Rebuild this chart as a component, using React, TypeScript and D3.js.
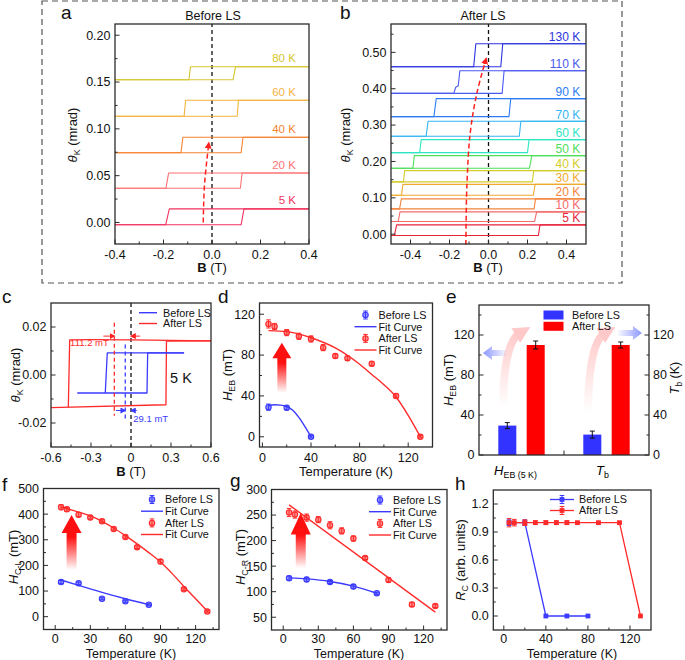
import { useEffect, useRef } from 'react';
import * as d3 from 'd3';

const FONT = '"Liberation Sans", Arial, Helvetica, sans-serif';
const AX = '#2b2b2b';
const BLUE = '#3b3bff';
const RED = '#ff2b2b';
const TICK = 12.5;
const TITLE = 13;

// ── a: Kerr loops before LS ─────────────────────────────
const aTemps = ['5 K', '20 K', '40 K', '60 K', '80 K'];
const aColors = ['#f2325f', '#ff7373', '#f5832f', '#f4b33f', '#d7c62e'];
const aLow = [-0.0025, 0.0365, 0.0745, 0.1135, 0.1525];
const aHigh = [0.0145, 0.0528, 0.091, 0.1305, 0.1663];
const aDown = [[-0.176, -0.191], [-0.179, -0.19], [-0.12, -0.128], [-0.109, -0.115], [-0.089, -0.095]];
const aUp = [[0.12, 0.132], [0.117, 0.124], [0.12, 0.128], [0.104, 0.109], [0.087, 0.097]];
const aArrow = [[-0.036, 0.0], [-0.031, 0.04], [-0.013, 0.085]];

// ── b: Kerr loops after LS ──────────────────────────────
const bTemps = ['5 K', '10 K', '20 K', '30 K', '40 K', '50 K', '60 K', '70 K', '90 K', '110 K', '130 K'];
const bColors = ['#e8243c', '#f46a6a', '#f4843c', '#f0aa2c', '#d4cc2a', '#4ede5a', '#2ee6c4', '#34b4f4', '#2e7cf4', '#4a5af0', '#2c34e0'];
const bLow = [-0.0037, 0.0348, 0.0696, 0.107, 0.1438, 0.1813, 0.2244, 0.2692, 0.3232, 0.3873, 0.4606];
const bHigh = [0.0256, 0.0614, 0.097, 0.137, 0.1749, 0.216, 0.2601, 0.3104, 0.3727, 0.4496, 0.5238];
const bDown = [[-0.471, -0.483], [-0.454, -0.463], [-0.447, -0.456], [-0.439, -0.446], [-0.43, -0.436], [-0.38, -0.388], [-0.345, -0.353], [-0.31, -0.32], [-0.268, -0.28], [-0.147, -0.178], [-0.065, -0.076]];
const bUp = [[0.256, 0.264], [0.236, 0.247], [0.234, 0.241], [0.23, 0.239], [0.225, 0.232], [0.21, 0.222], [0.2, 0.208], [0.158, 0.166], [0.105, 0.114], [0.07, 0.08], [0.063, 0.073]];
const bKink110 = [[-0.155, 0.408], [-0.168, 0.404]];
const bArrow = [[-0.116, -0.029], [-0.111, 0.131], [-0.094, 0.277], [-0.06, 0.387], [-0.012, 0.483]];

// ── c: 5 K loops ────────────────────────────────────────
const cBlueLower = [[-0.403, -0.0075], [0.12, -0.0075], [0.125, 0.0092], [0.398, 0.0092]];
const cBlueUpper = [[0.398, 0.0092], [-0.178, 0.0092], [-0.193, -0.0075]];
const cRedLower = [[-0.6, -0.0136], [0.262, -0.0124], [0.266, 0.0141], [0.6, 0.0142]];
const cRedUpper = [[0.6, 0.0142], [0.3, 0.0144], [0.0, 0.0146], [-0.3, 0.0147], [-0.46, 0.0146], [-0.47, -0.0133]];
const cCentre = [-0.125, -0.043]; // after, before

// ── d: H_EB vs T ────────────────────────────────────────
const dTBefore = [5, 20, 40];
const dHBefore = [29, 28.4, 0];
const dEBefore = [3, 2, 1];
const dTAfter = [5, 10, 20, 30, 40, 50, 60, 70, 90, 110, 130];
const dHAfter = [110.5, 108, 102, 98.4, 95.8, 87.3, 79, 77, 71.6, 40, 0];
const dEAfter = [4, 3, 3, 3, 3, 3, 2, 2, 2, 2, 1];
const dFitTBefore = [5, 10, 15, 20, 25, 30, 35, 40];
const dFitHBefore = [30.4, 31.3, 31, 29.5, 26, 19, 10, 0];
const dFitTAfter = [5, 20, 40, 60, 80, 90, 100, 110, 120, 130];
const dFitHAfter = [104, 103, 97, 87, 71, 61, 51, 39, 21, 0];

// ── e: bars ─────────────────────────────────────────────
const eCats = ['HEB', 'Tb'];
const eSeries = ['Before LS', 'After LS'];
const eBefore = [29.4, 20.4];
const eAfter = [110, 110];
const eErrBefore = [3, 3.5];
const eErrAfter = [4, 3];

// ── f: H_C-L vs T ───────────────────────────────────────
const fTBefore = [5, 20, 40, 60, 80];
const fHBefore = [135, 130, 70, 60, 47];
const fEBefore = [6, 5, 4, 4, 3];
const fTAfter = [5, 10, 20, 30, 40, 50, 60, 70, 90, 110, 130];
const fHAfter = [427, 419, 398, 387, 372, 342, 311, 271, 215, 107, 20];
const fEAfter = [10, 8, 8, 6, 6, 5, 5, 5, 8, 5, 3];
const fFitTBefore = [5, 20, 40, 60, 80];
const fFitHBefore = [143, 122, 95, 70, 47];
const fFitTAfter = [5, 20, 30, 40, 50, 60, 70, 80, 90, 100, 110, 120, 130];
const fFitHAfter = [428, 408, 393, 372, 346, 316, 284, 250, 213, 168, 118, 70, 22];

// ── g: H_C-R vs T ───────────────────────────────────────
const gTBefore = [5, 20, 40, 60, 80];
const gHBefore = [126.5, 124, 119, 110, 97];
const gEBefore = [4, 4, 3, 4, 2];
const gTAfter = [5, 10, 20, 30, 40, 50, 60, 70, 90, 110, 130];
const gHAfter = [255, 251, 245, 241, 230, 219, 204, 166, 123, 75, 72];
const gEAfter = [8, 7, 7, 6, 7, 6, 5, 3, 4, 4, 3];
const gFitTBefore = [5, 20, 40, 60, 80];
const gFitHBefore = [127, 125, 120, 111, 97];
const gFitTAfter = [5, 130];
const gFitHAfter = [270, 60];

// ── h: R_C vs T ─────────────────────────────────────────
const hTBefore = [5, 20, 40, 60, 80];
const hRBefore = [1, 1, 0, 0, 0];
const hEBefore = [0.03, 0.03, 0, 0, 0];
const hTAfter = [5, 10, 20, 30, 40, 50, 60, 70, 90, 110, 130];
const hRAfter = [1, 1, 1, 1, 1, 1, 1, 1, 1, 1, 0];
const hEAfter = [0.045, 0.035, 0.03, 0.02, 0.02, 0.02, 0.02, 0.01, 0.01, 0.01, 0];

type Part = { t: string; it?: boolean; sub?: boolean; b?: boolean };
type Sel = d3.Selection<any, any, any, any>;
type Lin = d3.ScaleLinear<number, number>;

function rich(sel: Sel, parts: Part[], size: number) {
  let down = false;
  parts.forEach((p) => {
    const ts = sel.append('tspan').text(p.t);
    if (p.it) ts.attr('font-style', 'italic');
    if (p.b) ts.attr('font-weight', 'bold');
    if (p.sub) {
      ts.attr('font-size', size * 0.68);
      if (!down) { ts.attr('dy', size * 0.26); down = true; }
    } else if (down) { ts.attr('dy', -size * 0.26); down = false; }
  });
}

function text(g: Sel, x: number, y: number, s: string, size = TICK, anchor = 'middle', fill = '#111') {
  return g.append('text').attr('x', x).attr('y', y).attr('text-anchor', anchor)
    .attr('font-size', size).attr('fill', fill).text(s);
}

function yTitle(g: Sel, x: number, y: number, parts: Part[], size = TITLE) {
  const t = g.append('text').attr('transform', `translate(${x},${y}) rotate(-90)`)
    .attr('text-anchor', 'middle').attr('font-size', size).attr('fill', '#111');
  rich(t, parts, size);
}

function xTitle(g: Sel, x: number, y: number, parts: Part[], size = TITLE) {
  const t = g.append('text').attr('x', x).attr('y', y).attr('text-anchor', 'middle')
    .attr('font-size', size).attr('fill', '#111');
  rich(t, parts, size);
}

function axes(g: Sel, x: Lin, y: Lin, o: {
  xMajor?: number[]; xMinor?: number[]; yMajor: number[]; yMinor: number[];
  xFmt?: (v: number) => string; yFmt: (v: number) => string; xLabelDy?: number;
}) {
  const [l] = x.range();
  const [b] = y.range();
  const ln = (x1: number, y1: number, x2: number, y2: number) =>
    g.append('line').attr('x1', x1).attr('y1', y1).attr('x2', x2).attr('y2', y2)
      .attr('stroke', AX).attr('stroke-width', 1);
  (o.xMajor || []).forEach((v) => {
    ln(x(v), b, x(v), b - 4.5);
    text(g, x(v), b + (o.xLabelDy ?? 14.5), o.xFmt!(v));
  });
  (o.xMinor || []).forEach((v) => ln(x(v), b, x(v), b - 2.5));
  o.yMajor.forEach((v) => {
    ln(l, y(v), l + 4.5, y(v));
    text(g, l - 4.5, y(v) + 4.4, o.yFmt(v), TICK, 'end');
  });
  o.yMinor.forEach((v) => ln(l, y(v), l + 2.5, y(v)));
}

function box(g: Sel, x: Lin, y: Lin) {
  const [l, r] = x.range();
  const [b, t] = y.range();
  g.append('rect').attr('x', l).attr('y', t).attr('width', r - l).attr('height', b - t)
    .attr('fill', 'none').attr('stroke', AX).attr('stroke-width', 1.3);
}

function zeroLine(g: Sel, x: Lin, y: Lin, v: number) {
  const [b, t] = y.range();
  g.append('line').attr('x1', x(v)).attr('x2', x(v)).attr('y1', b).attr('y2', t)
    .attr('stroke', '#111').attr('stroke-width', 1.3).attr('stroke-dasharray', '4,3');
}

function polyline(g: Sel, x: Lin, y: Lin, pts: number[][], color: string, w = 1.1, curve: d3.CurveFactory = d3.curveLinear) {
  const line = d3.line<number[]>().x((d) => x(d[0])).y((d) => y(d[1])).curve(curve);
  return g.append('path').attr('d', line(pts)).attr('fill', 'none').attr('stroke', color)
    .attr('stroke-width', w).attr('stroke-linejoin', 'round');
}

function loop(g: Sel, x: Lin, y: Lin, low: number, high: number, up: number[], down: number[], color: string, kink: number[][] = []) {
  const [xmin, xmax] = x.domain();
  polyline(g, x, y, [[xmin, low], [up[0], low], [up[1], high], [xmax, high]], color);
  polyline(g, x, y, [[xmax, high], [down[0], high], ...kink, [down[1], low], [xmin, low]], color);
}

function errPoint(g: Sel, cx: number, cy: number, y1: number, y2: number, color: string, shape = 'circle') {
  if (Math.abs(y2 - y1) > 1) {
    g.append('line').attr('x1', cx).attr('x2', cx).attr('y1', y1).attr('y2', y2).attr('stroke', color).attr('stroke-width', 1);
    [y1, y2].forEach((yy) => g.append('line').attr('x1', cx - 2.3).attr('x2', cx + 2.3).attr('y1', yy).attr('y2', yy)
      .attr('stroke', color).attr('stroke-width', 1));
  }
  if (shape === 'circle') {
    g.append('circle').attr('cx', cx).attr('cy', cy).attr('r', 2.7).attr('fill', color).attr('stroke', color)
      .attr('stroke-width', 1.1).attr('fill-opacity', 0.55);
  } else {
    g.append('rect').attr('x', cx - 2.4).attr('y', cy - 2.4).attr('width', 4.8).attr('height', 4.8).attr('fill', color);
  }
}

function scatter(g: Sel, x: Lin, y: Lin, T: number[], V: number[], E: number[], color: string, shape = 'circle') {
  T.forEach((t, i) => errPoint(g, x(t), y(V[i]), y(V[i] - E[i]), y(V[i] + E[i]), color, shape));
}

function fitLine(g: Sel, x: Lin, y: Lin, T: number[], V: number[], color: string) {
  polyline(g, x, y, T.map((t, i) => [t, V[i]]), color, 1.4, d3.curveMonotoneX);
}

function fitLegend(g: Sel, xr: number, yTop: number) {
  const mx = xr - 67;
  const tx = xr - 54;
  const rows = [yTop, yTop + 11.7, yTop + 23.4, yTop + 35];
  errPoint(g, mx, rows[0], rows[0] - 4, rows[0] + 4, BLUE);
  g.append('line').attr('x1', mx - 11).attr('x2', mx + 11).attr('y1', rows[1]).attr('y2', rows[1]).attr('stroke', BLUE).attr('stroke-width', 1.4);
  errPoint(g, mx, rows[2], rows[2] - 4, rows[2] + 4, RED);
  g.append('line').attr('x1', mx - 11).attr('x2', mx + 11).attr('y1', rows[3]).attr('y2', rows[3]).attr('stroke', RED).attr('stroke-width', 1.4);
  ['Before LS', 'Fit Curve', 'After LS', 'Fit Curve'].forEach((s, i) => text(g, tx, rows[i] + 3.8, s, 10.8, 'start'));
}

function bigArrow(g: Sel, defs: Sel, id: string, cx: number, yTip: number, yBase: number, yTail: number, head = 10, shaft = 5) {
  const gr = defs.append('linearGradient').attr('id', id).attr('x1', 0).attr('y1', 0).attr('x2', 0).attr('y2', 1);
  gr.append('stop').attr('offset', '0%').attr('stop-color', '#ff1010');
  gr.append('stop').attr('offset', '40%').attr('stop-color', '#ff1010');
  gr.append('stop').attr('offset', '100%').attr('stop-color', '#ff1010').attr('stop-opacity', 0);
  const pts = [[cx, yTip], [cx + head, yBase], [cx + shaft, yBase], [cx + shaft, yTail], [cx - shaft, yTail], [cx - shaft, yBase], [cx - head, yBase]];
  g.append('polygon').attr('points', pts.map((p) => p.join(',')).join(' ')).attr('fill', `url(#${id})`);
}

const fmt1 = (v: number) => v.toFixed(1);
const fmt2 = (v: number) => v.toFixed(2);
const fmt0 = (v: number) => String(v);

export default function App() {
  const ref = useRef<SVGSVGElement>(null);

  useEffect(() => {
    const svg = d3.select(ref.current);
    svg.selectAll('*').remove();
    const defs = svg.append('defs');

    const marker = (id: string, size: number, fill: string, refX = 8) =>
      defs.append('marker').attr('id', id).attr('viewBox', '0 0 10 10').attr('refX', refX).attr('refY', 5)
        .attr('markerWidth', size).attr('markerHeight', size).attr('markerUnits', 'userSpaceOnUse').attr('orient', 'auto')
        .append('path').attr('d', 'M0,0 L10,5 L0,10 z').attr('fill', fill);
    marker('headRed', 7, '#ff2020');
    marker('headRedS', 6, '#ff2020');
    marker('headBlue', 6, BLUE);
    marker('headPink', 17, '#ffc9c9', 3);

    // dashed outline round a and b
    svg.append('rect').attr('x', 42).attr('y', 1).attr('width', 580).attr('height', 282)
      .attr('fill', 'none').attr('stroke', '#555').attr('stroke-width', 1.2).attr('stroke-dasharray', '6,4');

    const thetaK: Part[] = [{ t: 'θ', it: true }, { t: 'K', sub: true }, { t: ' (mrad)' }];
    const bT: Part[] = [{ t: 'B', b: true }, { t: ' (T)' }];
    const temp: Part[] = [{ t: 'Temperature (K)' }];

    // ── a ──
    {
      const g = svg.append('g');
      const x = d3.scaleLinear().domain([-0.4, 0.4]).range([115, 309]);
      const y = d3.scaleLinear().domain([-0.023, 0.212]).range([244, 24]);
      zeroLine(g, x, y, 0);
      aTemps.forEach((t, i) => {
        loop(g, x, y, aLow[i], aHigh[i], aUp[i], aDown[i], aColors[i]);
        text(g, x(0.346), y(aHigh[i]) - 4.5, t, 11.5, 'end', aColors[i]);
      });
      polyline(g, x, y, aArrow, '#ff2020', 1.5, d3.curveCatmullRom).attr('stroke-dasharray', '5,3').attr('marker-end', 'url(#headRed)');
      axes(g, x, y, {
        xMajor: [-0.4, -0.2, 0, 0.2, 0.4], xMinor: [-0.3, -0.1, 0.1, 0.3], xFmt: fmt1,
        yMajor: [0, 0.05, 0.1, 0.15, 0.2], yMinor: [0.025, 0.075, 0.125, 0.175], yFmt: fmt2,
      });
      box(g, x, y);
      text(g, 213, 19.5, 'Before LS', 12.5);
      yTitle(g, 76.5, 135, thetaK);
      xTitle(g, 212, 272, bT);
      text(g, 61, 19, 'a', 19, 'start');
    }

    // ── b ──
    {
      const g = svg.append('g');
      const x = d3.scaleLinear().domain([-0.5, 0.5]).range([391, 586]);
      const y = d3.scaleLinear().domain([-0.027, 0.578]).range([244, 24]);
      zeroLine(g, x, y, 0);
      bTemps.forEach((t, i) => {
        loop(g, x, y, bLow[i], bHigh[i], bUp[i], bDown[i], bColors[i], t === '110 K' ? bKink110 : []);
        text(g, x(0.47), y(bHigh[i]) - 2.5, t, 12, 'end', bColors[i]);
      });
      polyline(g, x, y, bArrow, '#ff2020', 1.5, d3.curveCatmullRom).attr('stroke-dasharray', '5,3').attr('marker-end', 'url(#headRed)');
      axes(g, x, y, {
        xMajor: [-0.4, -0.2, 0, 0.2, 0.4], xMinor: [-0.3, -0.1, 0.1, 0.3], xFmt: fmt1,
        yMajor: [0, 0.1, 0.2, 0.3, 0.4, 0.5], yMinor: [0.05, 0.15, 0.25, 0.35, 0.45, 0.55], yFmt: fmt2,
      });
      box(g, x, y);
      text(g, 483, 19.5, 'After LS', 12.5);
      yTitle(g, 349.5, 135, thetaK);
      xTitle(g, 488, 272, bT);
      text(g, 340, 19, 'b', 19, 'start');
    }

    // ── c ──
    {
      const g = svg.append('g');
      const x = d3.scaleLinear().domain([-0.6, 0.6]).range([51, 211]);
      const y = d3.scaleLinear().domain([-0.03, 0.03]).range([447, 303]);
      zeroLine(g, x, y, 0);
      polyline(g, x, y, cRedLower, RED, 1.3);
      polyline(g, x, y, cRedUpper, RED, 1.3);
      polyline(g, x, y, cBlueLower, BLUE, 1.3);
      polyline(g, x, y, cBlueUpper, BLUE, 1.3);
      polyline(g, x, y, [[cCentre[0], 0.0218], [cCentre[0], -0.017]], RED, 1.3).attr('stroke-dasharray', '4,3');
      polyline(g, x, y, [[cCentre[1], 0.0127], [cCentre[1], -0.0187]], BLUE, 1.3).attr('stroke-dasharray', '4,3');
      polyline(g, x, y, [[-0.207, 0.0162], [cCentre[0], 0.0162]], RED, 1).attr('marker-end', 'url(#headRedS)');
      polyline(g, x, y, [[0.068, 0.0162], [0, 0.0162]], RED, 1).attr('marker-end', 'url(#headRedS)');
      polyline(g, x, y, [[-0.113, -0.0148], [cCentre[1], -0.0148]], BLUE, 1).attr('marker-end', 'url(#headBlue)');
      polyline(g, x, y, [[0.043, -0.0148], [0, -0.0148]], BLUE, 1).attr('marker-end', 'url(#headBlue)');
      text(g, x(-0.457), y(0.0119), '111.2 mT', 9.5, 'start', RED);
      text(g, x(0.017), y(-0.0194), '29.1 mT', 9.5, 'start', BLUE);
      text(g, x(0.293), y(-0.0032), '5 K', 14.5, 'start', '#111');
      g.append('line').attr('x1', 139).attr('x2', 157).attr('y1', 312.7).attr('y2', 312.7).attr('stroke', BLUE).attr('stroke-width', 1.4);
      g.append('line').attr('x1', 139).attr('x2', 157).attr('y1', 323.5).attr('y2', 323.5).attr('stroke', RED).attr('stroke-width', 1.4);
      text(g, 163, 316.5, 'Before LS', 10.8, 'start');
      text(g, 163, 327.3, 'After LS', 10.8, 'start');
      axes(g, x, y, {
        xMajor: [-0.6, -0.3, 0, 0.3, 0.6], xMinor: [-0.45, -0.15, 0.15, 0.45], xFmt: (v) => (v === 0 ? '0' : fmt1(v)),
        yMajor: [-0.02, 0, 0.02], yMinor: [-0.01, 0.01], yFmt: fmt2,
      });
      box(g, x, y);
      yTitle(g, 19.5, 375, thetaK);
      xTitle(g, 131, 475.5, bT);
      text(g, 2, 303, 'c', 19, 'start');
    }

    // ── d ──
    {
      const g = svg.append('g');
      const x = d3.scaleLinear().domain([-2.4, 140]).range([259.5, 432.5]);
      const y = d3.scaleLinear().domain([-10, 131]).range([447, 303]);
      bigArrow(g, defs, 'arrD', x(16), y(92), y(77), y(43), 9.5, 4.5);
      fitLine(g, x, y, dFitTBefore, dFitHBefore, BLUE);
      fitLine(g, x, y, dFitTAfter, dFitHAfter, RED);
      scatter(g, x, y, dTBefore, dHBefore, dEBefore, BLUE);
      scatter(g, x, y, dTAfter, dHAfter, dEAfter, RED);
      fitLegend(g, 432.5, 315);
      axes(g, x, y, {
        xMajor: [0, 40, 80, 120], xMinor: [20, 60, 100], xFmt: fmt0,
        yMajor: [0, 40, 80, 120], yMinor: [20, 60, 100], yFmt: fmt0,
      });
      box(g, x, y);
      yTitle(g, 231.5, 375, [{ t: 'H', it: true }, { t: 'EB', sub: true }, { t: ' (mT)' }]);
      xTitle(g, 346, 475.5, temp);
      text(g, 218, 303, 'd', 19, 'start');
    }

    // ── e ──
    {
      const g = svg.append('g');
      const x0 = d3.scaleBand<string>().domain(eCats).range([479, 649]);
      const x1 = d3.scaleBand<string>().domain(eSeries).range([0, x0.bandwidth()]).paddingInner(0.365).paddingOuter(0.68);
      const y = d3.scaleLinear().domain([0, 150]).range([455, 305]);
      const ex = d3.scaleLinear().domain([0, 6]).range([479, 649]);
      const [l, r] = x0.range();
      const pg = defs.append('linearGradient').attr('id', 'pinkG').attr('x1', 0).attr('y1', 1).attr('x2', 0).attr('y2', 0);
      pg.append('stop').attr('offset', '0%').attr('stop-color', '#ffc4c4').attr('stop-opacity', 0);
      pg.append('stop').attr('offset', '100%').attr('stop-color', '#ffc4c4').attr('stop-opacity', 0.9);
      const curvePts = [
        [[0.85, 48], [0.86, 112], [1.45, 122]],
        [[3.85, 42], [3.86, 112], [4.45, 122]],
      ];
      curvePts.forEach((c) => {
        g.append('path')
          .attr('d', `M${ex(c[0][0])},${y(c[0][1])} Q${ex(c[1][0])},${y(c[1][1])} ${ex(c[2][0])},${y(c[2][1])}`)
          .attr('fill', 'none').attr('stroke', 'url(#pinkG)').attr('stroke-width', 8).attr('marker-end', 'url(#headPink)');
      });
      const blueArrow = (id: string, xTail: number, xTip: number, v: number) => {
        const dir = xTip > xTail ? 1 : -1;
        const gr = defs.append('linearGradient').attr('id', id).attr('x1', dir > 0 ? 0 : 1).attr('x2', dir > 0 ? 1 : 0).attr('y1', 0).attr('y2', 0);
        gr.append('stop').attr('offset', '0%').attr('stop-color', '#7f8cff').attr('stop-opacity', 0.05);
        gr.append('stop').attr('offset', '100%').attr('stop-color', '#7f8cff').attr('stop-opacity', 0.9);
        const a = ex(xTail), b = ex(xTip), yy = y(v), hb = b - dir * 9;
        const pts = [[a, yy - 3], [hb, yy - 3], [hb, yy - 7], [b, yy], [hb, yy + 7], [hb, yy + 3], [a, yy + 3]];
        g.append('polygon').attr('points', pts.map((p) => p.join(',')).join(' ')).attr('fill', `url(#${id})`);
      };
      blueArrow('blL', 0.97, 0.14, 102);
      blueArrow('blR', 4.9, 5.75, 122);

      const ln = (xa: number, ya: number, xb: number, yb: number) =>
        g.append('line').attr('x1', xa).attr('y1', ya).attr('x2', xb).attr('y2', yb).attr('stroke', AX).attr('stroke-width', 1);
      const centres: number[] = [];
      eCats.forEach((c) => eSeries.forEach((s) => centres.push(x0(c)! + x1(s)! + x1.bandwidth() / 2)));
      centres.push(x0(eCats[1])!);
      centres.forEach((cx) => ln(cx, 455, cx, 450.5));
      [0, 40, 80, 120].forEach((v) => {
        ln(l, y(v), l + 4.5, y(v));
        ln(r, y(v), r - 4.5, y(v));
        text(g, l - 4.5, y(v) + 4.4, String(v), TICK, 'end');
        text(g, r + 4, y(v) + 4.4, String(v), TICK, 'start');
      });
      [20, 60, 100, 140].forEach((v) => { ln(l, y(v), l + 2.5, y(v)); ln(r, y(v), r - 2.5, y(v)); });

      eCats.forEach((c, i) => {
        const rows: [number, number, string, string][] = [
          [eBefore[i], eErrBefore[i], '#3333ff', eSeries[0]],
          [eAfter[i], eErrAfter[i], '#ff0000', eSeries[1]],
        ];
        rows.forEach(([v, e, col, s]) => {
          const bx = x0(c)! + x1(s)!;
          g.append('rect').attr('x', bx).attr('y', y(v)).attr('width', x1.bandwidth())
            .attr('height', y(0) - y(v)).attr('fill', col);
          const cx = bx + x1.bandwidth() / 2;
          const y1 = y(v - e), y2 = y(v + e);
          g.append('line').attr('x1', cx).attr('x2', cx).attr('y1', y1).attr('y2', y2).attr('stroke', '#111');
          [y1, y2].forEach((yy) => g.append('line').attr('x1', cx - 2.5).attr('x2', cx + 2.5).attr('y1', yy).attr('y2', yy).attr('stroke', '#111'));
        });
      });
      g.append('rect').attr('x', 543.5).attr('y', 310.5).attr('width', 20).attr('height', 9).attr('fill', '#3333ff');
      g.append('rect').attr('x', 543.5).attr('y', 321.8).attr('width', 20).attr('height', 9).attr('fill', '#ff0000');
      text(g, 572, 318.8, 'Before LS', 10.8, 'start');
      text(g, 572, 330, 'After LS', 10.8, 'start');
      g.append('rect').attr('x', l).attr('y', 305).attr('width', r - l).attr('height', 150)
        .attr('fill', 'none').attr('stroke', AX).attr('stroke-width', 1.3);
      const lab1 = g.append('text').attr('x', x0(eCats[0])! + x0.bandwidth() / 2 - 6).attr('y', 475).attr('text-anchor', 'middle').attr('font-size', TITLE);
      rich(lab1, [{ t: 'H', it: true }, { t: 'EB (5 K)', sub: true }], TITLE);
      const lab2 = g.append('text').attr('x', x0(eCats[1])! + x0.bandwidth() / 2 - 4).attr('y', 475).attr('text-anchor', 'middle').attr('font-size', TITLE);
      rich(lab2, [{ t: 'T', it: true }, { t: 'b', sub: true }], TITLE);
      yTitle(g, 453, 380, [{ t: 'H', it: true }, { t: 'EB', sub: true }, { t: ' (mT)' }]);
      yTitle(g, 678.5, 378, [{ t: 'T', it: true }, { t: 'b', sub: true }, { t: ' (K)' }], 12.5);
      text(g, 446, 303, 'e', 19, 'start');
    }

    // ── f ──
    {
      const g = svg.append('g');
      const x = d3.scaleLinear().domain([-10, 140]).range([43.5, 219]);
      const y = d3.scaleLinear().domain([-50, 500]).range([629.5, 488.5]);
      bigArrow(g, defs, 'arrF', x(14), y(397), y(326), y(182), 10, 5);
      fitLine(g, x, y, fFitTBefore, fFitHBefore, BLUE);
      fitLine(g, x, y, fFitTAfter, fFitHAfter, RED);
      scatter(g, x, y, fTBefore, fHBefore, fEBefore, BLUE);
      scatter(g, x, y, fTAfter, fHAfter, fEAfter, RED);
      fitLegend(g, 219, 499.5);
      axes(g, x, y, {
        xMajor: [0, 30, 60, 90, 120], xMinor: [15, 45, 75, 105, 135], xFmt: fmt0, xLabelDy: 13.8,
        yMajor: [0, 100, 200, 300, 400, 500], yMinor: [50, 150, 250, 350, 450], yFmt: fmt0,
      });
      box(g, x, y);
      yTitle(g, 17.5, 557, [{ t: 'H', it: true }, { t: 'C-L', sub: true }, { t: ' (mT)' }]);
      xTitle(g, 131, 657.8, temp, 12.5);
      text(g, 2, 491, 'f', 19, 'start');
    }

    // ── g ──
    {
      const g = svg.append('g');
      const x = d3.scaleLinear().domain([-10, 140]).range([271.5, 447]);
      const y = d3.scaleLinear().domain([25, 300]).range([630, 489.5]);
      bigArrow(g, defs, 'arrG', x(15), y(254), y(212), y(146), 10, 5);
      fitLine(g, x, y, gFitTBefore, gFitHBefore, BLUE);
      fitLine(g, x, y, gFitTAfter, gFitHAfter, RED);
      scatter(g, x, y, gTBefore, gHBefore, gEBefore, BLUE);
      scatter(g, x, y, gTAfter, gHAfter, gEAfter, RED);
      fitLegend(g, 447, 500);
      axes(g, x, y, {
        xMajor: [0, 30, 60, 90, 120], xMinor: [15, 45, 75, 105, 135], xFmt: fmt0, xLabelDy: 13.3,
        yMajor: [50, 100, 150, 200, 250, 300], yMinor: [75, 125, 175, 225, 275], yFmt: fmt0,
      });
      box(g, x, y);
      yTitle(g, 244.5, 557, [{ t: 'H', it: true }, { t: 'C-R', sub: true }, { t: ' (mT)' }]);
      xTitle(g, 359, 657.8, temp, 12.5);
      text(g, 230, 487, 'g', 19, 'start');
    }

    // ── h ──
    {
      const g = svg.append('g');
      const x = d3.scaleLinear().domain([-10, 140]).range([493.3, 651]);
      const y = d3.scaleLinear().domain([-0.15, 1.35]).range([630, 490]);
      polyline(g, x, y, hTBefore.map((t, i) => [t, hRBefore[i]]), BLUE, 1.3);
      polyline(g, x, y, hTAfter.map((t, i) => [t, hRAfter[i]]), RED, 1.3);
      scatter(g, x, y, hTBefore, hRBefore, hEBefore, BLUE, 'square');
      scatter(g, x, y, hTAfter, hRAfter, hEAfter, RED, 'square');
      const leg: [number, string, string][] = [[499.5, BLUE, 'Before LS'], [510.5, RED, 'After LS']];
      leg.forEach(([yy, col, s]) => {
        g.append('line').attr('x1', 550).attr('x2', 574).attr('y1', yy).attr('y2', yy).attr('stroke', col).attr('stroke-width', 1.3);
        errPoint(g, 562, yy, yy - 4, yy + 4, col, 'square');
        text(g, 579, yy + 3.8, s, 10.8, 'start');
      });
      axes(g, x, y, {
        xMajor: [0, 40, 80, 120], xMinor: [20, 60, 100], xFmt: fmt0, xLabelDy: 13.3,
        yMajor: [0, 0.3, 0.6, 0.9, 1.2], yMinor: [0.15, 0.45, 0.75, 1.05], yFmt: fmt1,
      });
      box(g, x, y);
      yTitle(g, 464.5, 560, [{ t: 'R', it: true }, { t: 'C', sub: true }, { t: ' (arb. units)' }]);
      xTitle(g, 572, 657.8, temp, 12.5);
      text(g, 455, 490, 'h', 19, 'start');
    }
  }, []);

  return (
    <svg
      ref={ref}
      width={685}
      height={660}
      fontFamily={FONT}
      style={{ position: 'absolute', left: 0, top: 0, background: '#fff' }}
    />
  );
}
